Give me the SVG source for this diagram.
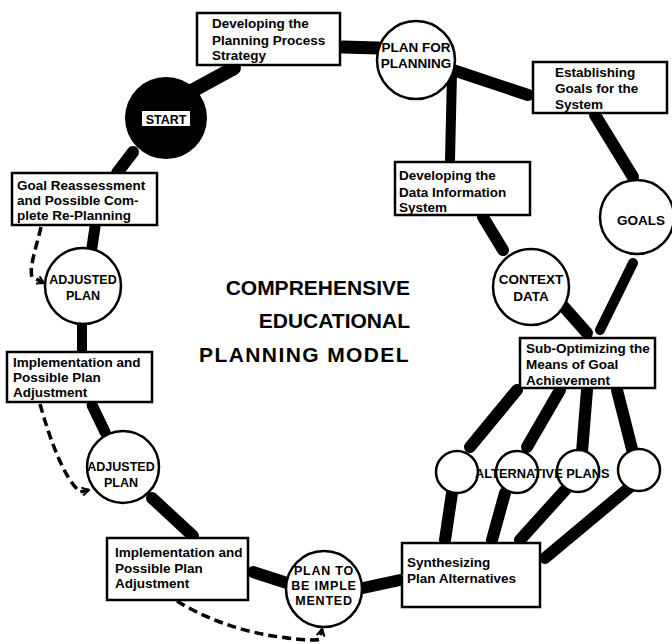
<svg xmlns="http://www.w3.org/2000/svg" width="672" height="644" viewBox="0 0 672 644">
<defs>
<style>
.box{fill:#fff;stroke:#000;stroke-width:2.5}
.circ{fill:#fff;stroke:#000;stroke-width:2.5}
.t{font-family:"Liberation Sans",Arial,sans-serif;font-weight:bold;font-size:13.5px;fill:#000}
.c{font-family:"Liberation Sans",Arial,sans-serif;font-weight:bold;font-size:13.5px;fill:#000;text-anchor:middle}
.title{font-family:"Liberation Sans",Arial,sans-serif;font-weight:bold;font-size:21px;fill:#000;text-anchor:end}
.thick{stroke:#000;stroke-width:12;stroke-linecap:round;fill:none}
.dash{stroke:#000;stroke-width:3.5;stroke-dasharray:9 5;fill:none}
</style>
<marker id="arr" viewBox="0 0 10 10" refX="9" refY="5" markerWidth="10" markerHeight="10" orient="auto" markerUnits="userSpaceOnUse">
<path d="M2 1 L9 5 L2 9" fill="none" stroke="#000" stroke-width="2"/>
</marker>
</defs>
<rect width="672" height="644" fill="#fff"/>

<g id="connectors">
<line class="thick" x1="190" y1="92" x2="234" y2="68" style="stroke-width:14"/>
<line class="thick" x1="343" y1="47" x2="378" y2="48" style="stroke-width:13"/>
<line class="thick" x1="453" y1="70" x2="528" y2="95"/>
<line class="thick" x1="452" y1="73" x2="450" y2="160" style="stroke-width:10"/>
<line class="thick" x1="595" y1="115" x2="633" y2="177"/>
<line class="thick" x1="483" y1="217" x2="503" y2="250"/>
<line class="thick" x1="564" y1="307" x2="587" y2="333"/>
<line class="thick" x1="633" y1="263" x2="600" y2="330" style="stroke-width:10"/>
<line class="thick" x1="517" y1="390" x2="470" y2="447"/>
<line class="thick" x1="560" y1="390" x2="527" y2="447"/>
<line class="thick" x1="587" y1="390" x2="582" y2="452"/>
<line class="thick" x1="617" y1="390" x2="633" y2="453"/>
<line class="thick" x1="452" y1="493" x2="445" y2="540"/>
<line class="thick" x1="505" y1="493" x2="492" y2="540"/>
<line class="thick" x1="567" y1="488" x2="520" y2="540"/>
<line class="thick" x1="630" y1="487" x2="545" y2="558"/>
<line class="thick" x1="400" y1="580" x2="363" y2="588"/>
<line class="thick" x1="287" y1="583" x2="253" y2="572"/>
<line class="thick" x1="152" y1="498" x2="193" y2="536"/>
<line class="thick" x1="105" y1="432" x2="92" y2="405" style="stroke-width:11"/>
<line class="thick" x1="82" y1="324" x2="82" y2="352" style="stroke-width:10"/>
<line class="thick" x1="92" y1="247" x2="95" y2="227" style="stroke-width:11"/>
<line class="thick" x1="117" y1="173" x2="133" y2="152"/>
</g>

<g id="title">
<text class="title" x="410" y="295">COMPREHENSIVE</text>
<text class="title" x="410" y="328">EDUCATIONAL</text>
<text class="title" x="410" y="362" style="letter-spacing:1.4px">PLANNING MODEL</text>
</g>

<g id="start">
<circle cx="166" cy="118" r="41" fill="#000"/>
<rect x="142" y="111" width="48" height="15" fill="#fff"/>
<text class="c" x="166" y="124" style="font-size:12.5px">START</text>
</g>

<g id="box-planning-strategy">
<rect class="box" x="197" y="13" width="143" height="52"/>
<text class="t" x="212" y="28">Developing the</text>
<text class="t" x="212" y="45">Planning Process</text>
<text class="t" x="212" y="60">Strategy</text>
</g>

<g id="plan-for-planning">
<circle class="circ" cx="416" cy="60" r="39"/>
<text class="c" x="416" y="52">PLAN FOR</text>
<text class="c" x="416" y="68">PLANNING</text>
</g>

<g id="box-establishing-goals">
<rect class="box" x="533" y="62" width="134" height="51"/>
<text class="t" x="555" y="77">Establishing</text>
<text class="t" x="555" y="93">Goals for the</text>
<text class="t" x="555" y="109">System</text>
</g>

<g id="box-data-info">
<rect class="box" x="395" y="162" width="135" height="53"/>
<text class="t" x="399" y="180">Developing the</text>
<text class="t" x="399" y="197">Data Information</text>
<text class="t" x="399" y="212">System</text>
</g>

<g id="goals">
<circle class="circ" cx="637" cy="217" r="37"/>
<text class="c" x="641" y="225">GOALS</text>
</g>

<g id="context-data">
<circle class="circ" cx="531" cy="287" r="38"/>
<text class="c" x="531" y="284">CONTEXT</text>
<text class="c" x="531" y="301">DATA</text>
</g>

<g id="box-sub-optimizing">
<rect class="box" x="520" y="338" width="135" height="50"/>
<text class="t" x="526" y="353">Sub-Optimizing the</text>
<text class="t" x="526" y="369">Means of Goal</text>
<text class="t" x="526" y="385">Achievement</text>
</g>

<g id="alt-1"><circle class="circ" cx="457" cy="472" r="21"/></g>
<g id="alt-2"><circle class="circ" cx="517" cy="472" r="21"/></g>
<g id="alt-3"><circle class="circ" cx="578" cy="471" r="21"/></g>
<g id="alt-4"><circle class="circ" cx="639" cy="470" r="21"/></g>
<g id="alt-label">
<text class="t" x="475" y="478" style="font-size:12.8px">ALTERNATIVE PLANS</text>
</g>

<g id="box-synthesizing">
<rect class="box" x="402" y="543" width="138" height="64"/>
<text class="t" x="407" y="567">Synthesizing</text>
<text class="t" x="407" y="583">Plan Alternatives</text>
</g>

<g id="plan-to-be-implemented">
<circle class="circ" cx="324" cy="589" r="38"/>
<text class="c" x="324" y="575" style="letter-spacing:0.8px;font-size:12.5px">PLAN TO</text>
<text class="c" x="324" y="590" style="letter-spacing:0.8px;font-size:12.5px">BE IMPLE</text>
<text class="c" x="324" y="605" style="letter-spacing:0.8px;font-size:12.5px">MENTED</text>
</g>

<g id="box-implementation-lower">
<rect class="box" x="107" y="538" width="141" height="62"/>
<text class="t" x="115" y="557">Implementation and</text>
<text class="t" x="115" y="573">Possible Plan</text>
<text class="t" x="115" y="588">Adjustment</text>
</g>

<g id="adjusted-plan-lower">
<circle class="circ" cx="123" cy="467" r="36"/>
<text class="c" x="121" y="471" style="font-size:12.5px">ADJUSTED</text>
<text class="c" x="121" y="487" style="font-size:12.5px">PLAN</text>
</g>

<g id="box-implementation-upper">
<rect class="box" x="7" y="352" width="145" height="50"/>
<text class="t" x="13" y="367">Implementation and</text>
<text class="t" x="13" y="382">Possible Plan</text>
<text class="t" x="13" y="397">Adjustment</text>
</g>

<g id="adjusted-plan-upper">
<circle class="circ" cx="83" cy="286" r="38"/>
<text class="c" x="83" y="284" style="font-size:12.5px">ADJUSTED</text>
<text class="c" x="83" y="300" style="font-size:12.5px">PLAN</text>
</g>

<g id="box-goal-reassessment">
<rect class="box" x="12" y="173" width="145" height="52"/>
<text class="t" x="17" y="190">Goal Reassessment</text>
<text class="t" x="17" y="205">and Possible Com-</text>
<text class="t" x="17" y="220">plete Re-Planning</text>
</g>

<g id="dashed-connectors">
<path class="dash" d="M41 227 C36 248 29 268 32 277 L44 283" marker-end="url(#arr)"/>
<path class="dash" d="M40 404 C50 440 64 478 80 492 L89 490" marker-end="url(#arr)"/>
<path class="dash" d="M177 601 C200 616 240 632 280 637 C300 640 318 641 320 639 L322 629" marker-end="url(#arr)"/>
</g>
</svg>
